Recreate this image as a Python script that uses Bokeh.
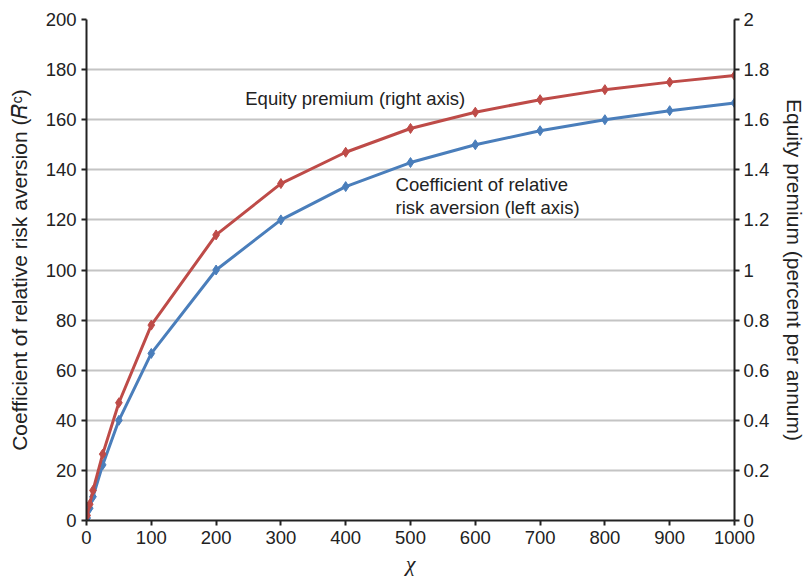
from bokeh.plotting import figure
from bokeh.models import Range1d, LinearAxis, FixedTicker, Label, CustomJSTickFormatter
from bokeh.embed import file_html
from bokeh.resources import INLINE

# ---- data ----
chi = [1, 5, 10, 25, 50, 100, 200, 300, 400, 500, 600, 700, 800, 900, 1000]
rra = [1.0, 4.9, 9.5, 22.2, 40.0, 66.7, 100.0, 120.0, 133.3, 142.9, 150.0, 155.6, 160.0, 163.6, 166.7]
equity_premium = [0.02, 0.065, 0.12, 0.265, 0.47, 0.78, 1.14, 1.345, 1.47, 1.565, 1.63, 1.68, 1.72, 1.75, 1.776]

x_ticks = [0, 100, 200, 300, 400, 500, 600, 700, 800, 900, 1000]
left_ticks = [0, 20, 40, 60, 80, 100, 120, 140, 160, 180, 200]
right_ticks = [0, 0.2, 0.4, 0.6, 0.8, 1, 1.2, 1.4, 1.6, 1.8, 2]

label_ep = "Equity premium (right axis)"
label_rra = ["Coefficient of relative", "risk aversion (left axis)"]

BLUE = "#4a7ebb"
RED = "#be4b48"
FONT = "Liberation Sans"

p = figure(width=809, height=580, output_backend="svg", toolbar_location=None,
           x_range=Range1d(0, 1000), y_range=Range1d(0, 200),
           min_border_left=86, min_border_right=73, min_border_top=19, min_border_bottom=60)
p.outline_line_color = None
p.background_fill_color = "white"
p.border_fill_color = "white"

p.extra_y_ranges = {"ep": Range1d(0, 2)}

# grid
p.xgrid.grid_line_color = None
p.ygrid.grid_line_color = "#c4c4c4"
p.ygrid.grid_line_width = 2
p.ygrid.ticker = FixedTicker(ticks=left_ticks)

def style_axis(ax):
    ax.axis_line_color = "#222222"
    ax.axis_line_width = 2
    ax.major_tick_line_color = "#222222"
    ax.major_tick_line_width = 2
    ax.major_tick_in = 0
    ax.major_tick_out = 5
    ax.minor_tick_line_color = None
    ax.major_label_text_font = FONT
    ax.major_label_text_font_size = "18.5px"
    ax.major_label_text_color = "#222222"
    ax.axis_label_text_font = FONT
    ax.axis_label_text_font_size = "21px"
    ax.axis_label_text_font_style = "normal"
    ax.axis_label_text_color = "#222222"

xa = p.xaxis[0]
style_axis(xa)
xa.ticker = FixedTicker(ticks=x_ticks)
xa.axis_label = "χ"
xa.axis_label_text_font = "Liberation Serif"
xa.axis_label_text_font_style = "italic"
xa.axis_label_text_font_size = "22px"
xa.axis_label_standoff = 4
xa.major_label_standoff = 5

ya = p.yaxis[0]
style_axis(ya)
ya.ticker = FixedTicker(ticks=left_ticks)
ya.axis_label = "Coefficient of relative risk aversion (𝑅ᶜ)"
ya.axis_label_standoff = 12
ya.major_label_standoff = 5

ra = LinearAxis(y_range_name="ep")
style_axis(ra)
ra.ticker = FixedTicker(ticks=right_ticks)
ra.formatter = CustomJSTickFormatter(code="return String(Math.round(tick*10)/10);")
ra.axis_label = "Equity premium (percent per annum)"
ra.axis_label_standoff = 11
ra.major_label_standoff = 4
p.add_layout(ra, "right")

# series
p.line(chi, rra, line_color=BLUE, line_width=3)
p.scatter(chi, rra, marker="diamond", size=10, fill_color=BLUE, line_color=BLUE)
p.line(chi, equity_premium, line_color=RED, line_width=3, y_range_name="ep")
p.scatter(chi, equity_premium, marker="diamond", size=10, fill_color=RED, line_color=RED, y_range_name="ep")

# annotations
p.add_layout(Label(x=245, y=168.5, text=label_ep, text_font=FONT, text_font_size="18.5px",
                   text_color="#222222", text_baseline="middle"))
p.add_layout(Label(x=477, y=134, text=label_rra[0], text_font=FONT, text_font_size="18.5px",
                   text_color="#222222", text_baseline="middle"))
p.add_layout(Label(x=477, y=124.8, text=label_rra[1], text_font=FONT, text_font_size="18.5px",
                   text_color="#222222", text_baseline="middle"))

open("out.html", "w").write(file_html(p, INLINE))
